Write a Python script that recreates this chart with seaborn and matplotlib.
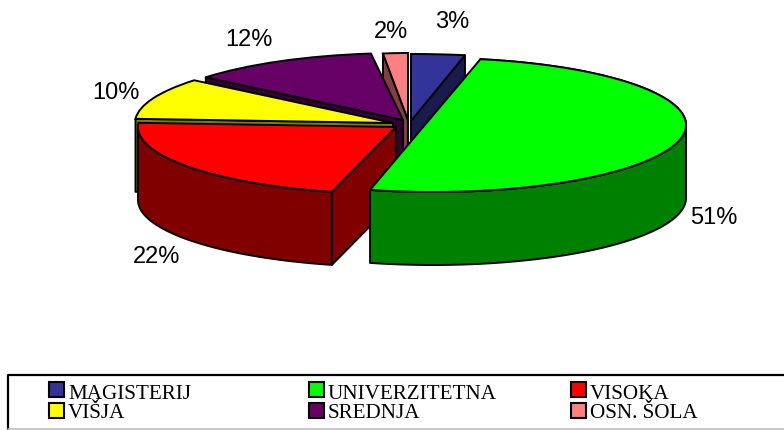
import numpy as np
import matplotlib
matplotlib.use("Agg")
import matplotlib.pyplot as plt
from matplotlib.patches import Rectangle
from matplotlib.transforms import Affine2D
import seaborn as sns

categories = ["MAGISTERIJ", "UNIVERZITETNA", "VISOKA", "VIŠJA", "SREDNJA", "OSN. ŠOLA"]
shares = [3, 51, 22, 10, 12, 2]
top_colors = ["#333399", "#00FF00", "#FF0000", "#FFFF00", "#660066", "#FF8080"]
side_colors = ["#1A1A4D", "#008000", "#800000", "#808000", "#330033", "#804040"]
# exploded layout: slice apex (figure pixels) and horizontal radius per slice
apex_px = [(411, 122), (433, 126), (396, 128), (393, 124), (403, 121), (408, 121)]
radius_x = [288, 253, 258, 258, 256, 200]
label_px = [(452, 22), (714, 218), (157, 257), (116, 93), (249, 40), (391, 32)]
draw_order = [5, 0, 4, 3, 2, 1]

W, H = 784, 431
RX, RY, DEPTH = 256.0, 67.0, 73.0
LW = 1.4

sns.set_theme(style="white")
plt.rcParams["font.family"] = ["Liberation Sans", "DejaVu Sans"]

fig = plt.figure(figsize=(W / 100, H / 100), dpi=100, facecolor="white")
ax = fig.add_axes([0, 0, 1, 1])


def to_data(x, y):
    return x / RX, -y / RY


palette = sns.color_palette(top_colors)
wedges, _ = ax.pie(shares, colors=palette, startangle=90, counterclock=False,
                   radius=1, wedgeprops=dict(edgecolor="black", linewidth=LW))
ax.set_aspect("auto")
ax.set_xlim(0, W / RX)
ax.set_ylim(-H / RY, 0)
ax.axis("off")

d = DEPTH / RY
for rank, i in enumerate(draw_order):
    w = wedges[i]
    k = radius_x[i] / RX
    cx, cy = to_data(*apex_px[i])
    w.set_center((cx / k, cy))
    w.set_transform(Affine2D().scale(k, 1) + ax.transData)
    w.set_zorder(10 + 2 * rank + 1)
    z = 10 + 2 * rank
    t1, t2 = np.radians(w.theta1), np.radians(w.theta2)
    style = dict(facecolor=side_colors[i], edgecolor="black", linewidth=LW,
                 joinstyle="round", zorder=z)
    # cut faces
    for t, visible in ((t1, np.cos(t1) > 0), (t2, np.cos(t2) < 0)):
        if visible:
            px_, py_ = cx + k * np.cos(t), cy + np.sin(t)
            ax.fill([cx, px_, px_, cx], [cy, py_, py_ - d, cy - d], **style)
    # rim
    th = np.linspace(t1, t2, 400)
    low = th[np.sin(th) < 0]
    if low.size:
        xs, ys = cx + k * np.cos(low), cy + np.sin(low)
        ax.fill(np.r_[xs, xs[::-1]], np.r_[ys, ys[::-1] - d], **style)
    # the half-pie slice closes with a straight chord in the reference
    if shares[i] == max(shares):
        ax.fill(cx + k * np.cos(th), cy + np.sin(th), facecolor=top_colors[i],
                edgecolor="black", linewidth=LW, joinstyle="round", zorder=z + 1)

# percentage labels
for s, (x, y) in zip(shares, label_px):
    lx, ly = to_data(x, y)
    ax.text(lx, ly, f"{s}%", ha="center", va="center", fontsize=17,
            color="black", zorder=50)

# legend box, running off the right edge as in the reference
ov = fig.add_axes([0, 0, 1, 1], facecolor="none")
ov.set_xlim(0, W)
ov.set_ylim(H, 0)
ov.axis("off")
ov.plot([784, 8, 8], [375.5, 375.5, 431], color="black", lw=1.6, clip_on=False)
ov.plot([8, 784], [430.2, 430.2], color="#BDBDBD", lw=1.2)
col_x = [48, 308, 570]
row_y = [382, 403]
base_y = [399, 418.5]
for i, name in enumerate(categories):
    sx, sy = col_x[i % 3], row_y[i // 3]
    ov.add_patch(Rectangle((sx + 1, sy + 1), 15, 15, facecolor=top_colors[i],
                           edgecolor="black", linewidth=1.5))
    ov.text(sx + 20, base_y[i // 3], name, family="Liberation Serif", fontsize=15.2,
            ha="left", va="baseline", color="black")

fig.savefig("out.png", dpi=100)
